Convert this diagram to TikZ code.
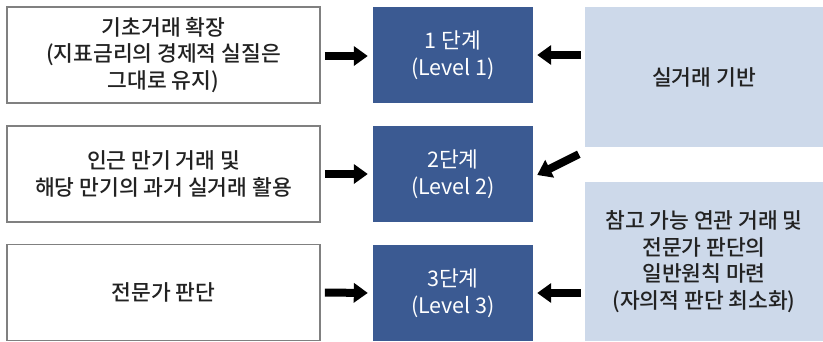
\documentclass[tikz,border=0pt]{standalone}
\usepackage{fontspec}
\setmainfont{Noto Sans CJK KR Medium}
\newfontfamily\lightfont{Noto Sans CJK KR}
\usetikzlibrary{arrows.meta}
\definecolor{stageblue}{HTML}{3B5A92}
\definecolor{paleblue}{HTML}{CDD9EA}
\definecolor{boxgray}{HTML}{808080}
\definecolor{ink}{HTML}{222222}
\tikzset{
  plain/.style={draw=boxgray, line width=1.6pt, fill=white, text=ink,
    minimum width=313pt, minimum height=96pt, inner sep=0pt, align=center,
    font=\fontsize{21.5}{26.5}\selectfont},
  stagebox/.style={fill=stageblue, text=white, minimum width=160pt,
    minimum height=96pt, inner sep=0pt, align=center,
    font=\lightfont\fontsize{21.5}{26.5}\selectfont},
  basis/.style={fill=paleblue, text=ink, minimum width=238pt, inner sep=0pt,
    align=center, font=\fontsize{21.5}{26.5}\selectfont},
  bigarrow/.style={line width=8pt, -{Triangle[length=14pt,width=19pt]}}
}
\begin{document}
\begin{tikzpicture}[x=1pt,y=-1pt]
\useasboundingbox (0,0) rectangle (823,341);

% left column: what each stage relies on
\node[plain] (l1) at (163.5,55) {기초거래 확장\\(지표금리의 경제적 실질은\\그대로 유지)};
\node[plain] (l2) at (163.5,174) {인근 만기 거래 및\\해당 만기의 과거 실거래 활용};
\node[plain] (l3) at (163.5,292.5) {전문가 판단};

% middle column: the three levels
\node[stagebox] (s1) at (453,55) {1 단계\\(Level 1)};
\node[stagebox] (s2) at (453,174) {2단계\\(Level 2)};
\node[stagebox] (s3) at (453,293) {3단계\\(Level 3)};

% right column: basis of each level
\node[basis, minimum height=140pt] (r1) at (704,77) {실거래 기반};
\node[basis, minimum height=159pt] (r2) at (704,261.5) {참고 가능 연관 거래 및\\전문가 판단의\\일반원칙 마련\\(자의적 판단 최소화)};

% arrows into the levels
\draw[bigarrow, shorten <=4pt, shorten >=5pt] (l1.east |- 0,56) -- (s1.west |- 0,56);
\draw[bigarrow, shorten <=4pt, shorten >=5pt] (l2.east) -- (s2.west);
\draw[bigarrow, shorten <=4pt, shorten >=5pt] (l3.east) -- (s3.west);

\draw[bigarrow, shorten <=4pt, shorten >=4pt] (s1.east -| r1.west) -- (s1.east);
\coordinate (dtail) at ([shift={(-6pt,-7pt)}]r1.south west);
\coordinate (dtip) at ([shift={(4pt,-1pt)}]s2.east);
\draw[bigarrow] (dtail) -- (dtip);
\draw[bigarrow, shorten <=4pt, shorten >=4pt] (s3.east -| r2.west) -- (s3.east);
\end{tikzpicture}
\end{document}
